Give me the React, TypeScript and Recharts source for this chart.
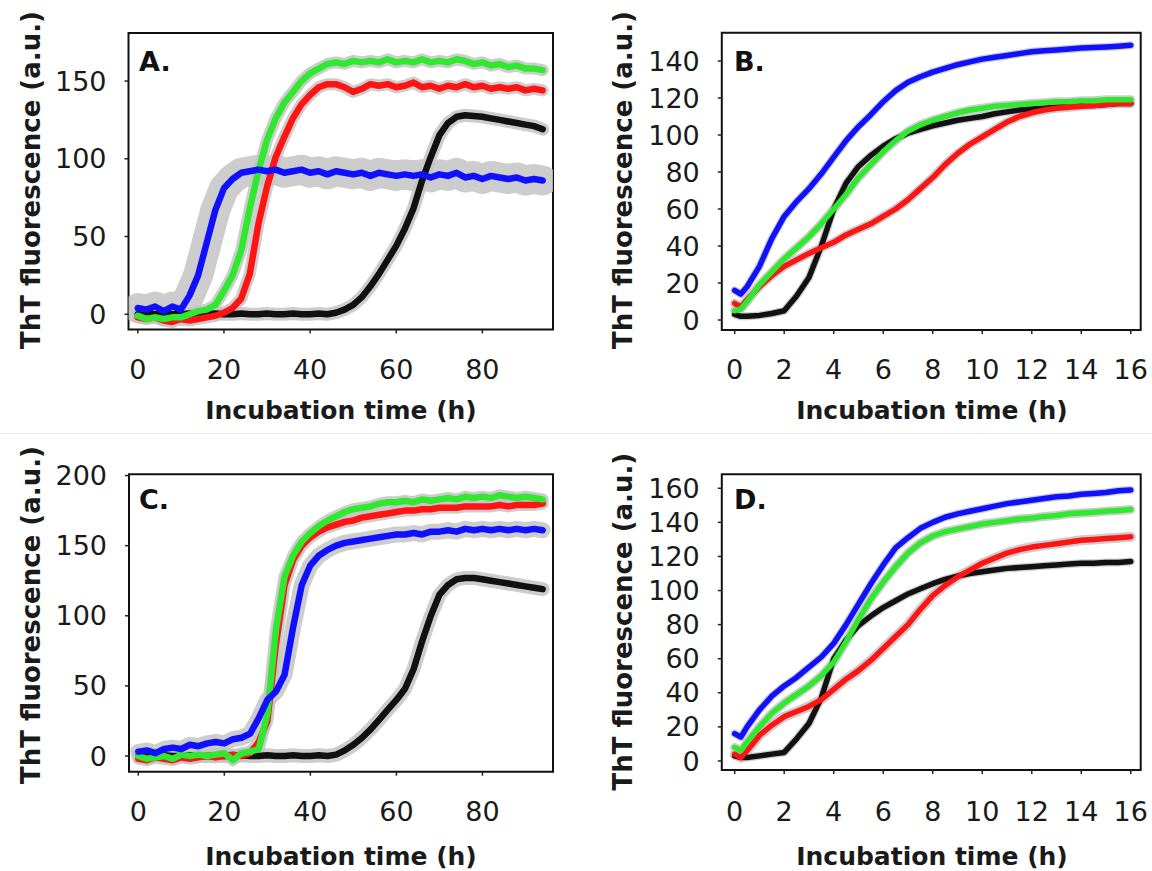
import { LineChart, Line, XAxis, YAxis, ReferenceArea } from 'recharts'

const FONT = '"DejaVu Sans", "Liberation Sans", Arial, sans-serif'

// time axes (h)
const hoursLong = [
  0, 2, 4, 6, 8, 10, 12, 14, 16, 18, 20, 22, 24, 26, 28, 30, 32, 34, 36, 38, 40, 42, 44, 46,
  48, 50, 52, 54, 56, 58, 60, 62, 64, 66, 68, 70, 72, 74, 76, 78, 80, 82, 84, 86, 88, 90, 92, 94,
]
const hoursShort = [
  0, 0.25, 0.5, 1, 1.5, 2, 2.5, 3, 3.5, 4, 4.5, 5, 5.5, 6, 6.5, 7, 7.5, 8, 8.5, 9, 9.5, 10,
  10.5, 11, 11.5, 12, 12.5, 13, 13.5, 14, 14.5, 15, 15.5, 16,
]

const ticksLong = [0, 20, 40, 60, 80]
const ticksShort = [0, 2, 4, 6, 8, 10, 12, 14, 16]
const ticksA = [0, 50, 100, 150]
const ticksB = [0, 20, 40, 60, 80, 100, 120, 140]
const ticksC = [0, 50, 100, 150, 200]
const ticksD = [0, 20, 40, 60, 80, 100, 120, 140, 160]

// panel A
const aBlack = [
  0, 0.5, 0, 0.5, 0, 0, 0.5, 0, 0, 0.5, 0, 0, 0.5, 0, 0, 0.5, 0, 0, 0.5, 0, 0, 0.5, 0,
  1, 3, 6, 11, 18, 26, 35, 44, 55, 68, 86, 101, 115, 123, 127, 128, 127.5, 127, 126, 125, 124, 123, 122, 121, 119,
]
const aRed = [
  -2, -3, -2, -4, -5, -3, -4, -3, -2, -1, 1, 4, 10, 26, 58, 82, 101, 114, 126, 135, 141, 146, 148, 148,
  146, 143, 145, 148, 147, 148, 146, 147, 149, 146, 147, 145, 147, 146, 148, 146, 147, 145, 146, 145, 146, 144, 145, 144,
]
const aGreen = [
  -1, -3, -2, -3, -2, -2, 0, 2, 3, 6, 15, 25, 41, 68, 92, 112, 126, 136, 143, 150, 155, 158, 161, 162,
  161, 163, 162, 163, 162, 164, 162, 163, 162, 164, 162, 163, 162, 164, 163, 161, 162, 160, 161, 159, 160, 158, 158, 157,
]
const aBlue = [
  4, 3, 5, 2, 5, 3, 12, 25, 46, 67, 81, 87, 91, 92, 93, 92, 93, 91, 92, 93, 91, 92, 90, 92,
  91, 90, 91, 89, 91, 90, 89, 90, 89, 90, 88, 90, 89, 91, 88, 89, 87, 89, 88, 87, 88, 86, 87, 86,
]

// panel B
const bBlack = [
  3, 2, 2, 2.5, 3.5, 5, 13, 23, 40, 60, 74, 83, 89, 94, 98, 101, 103, 105, 106.5, 108, 109, 110,
  111.5, 112.5, 113.5, 114, 114.5, 115, 115.5, 116, 116, 116.5, 117, 117,
]
const bRed = [
  9, 7, 11, 18, 24, 29, 32.5, 36, 39, 42, 46, 49, 52, 56, 60, 65, 71, 77, 84, 90, 95, 99,
  103, 107, 110, 112, 113.5, 114.5, 115, 115.5, 116, 116.5, 117, 117,
]
const bGreen = [
  5, 6, 10, 19, 26, 33, 39, 45, 52, 60, 68, 77, 84, 91, 97, 102, 105.5, 108, 110, 112, 113.5, 114.5,
  115.5, 116, 116.5, 117, 117.5, 118, 118, 118.5, 118.5, 119, 119, 119,
]
const bBlue = [
  16, 14, 18, 29, 44, 56, 64, 71, 79, 88, 97, 104.5, 111, 118, 124, 128.5, 131.5, 134, 136, 138, 139.5, 141,
  142, 143, 144, 145, 145.5, 146, 146.5, 147, 147.3, 147.6, 148, 148.5,
]

// panel C
const cBlack = [
  0, 0.5, 0, 0.5, 0, 0, 0.5, 0, 0, 0.5, 0, 0, 0.5, 0, 0, 0.5, 0, 0, 0.5, 0, 0, 0.5, 0,
  1, 4, 8, 13, 19, 26, 33, 40, 48, 62, 82, 100, 115, 122, 126, 127, 127, 126, 125, 124, 123, 122, 121, 120, 119,
]
const cRed = [
  -2, -3, -1, -2, -3, -1, -2, -1, 0, -1, 0, 1, 0, 2, 10, 25, 80, 122, 140, 150, 156, 160, 163, 165,
  167, 168, 170, 171, 172, 173, 174, 175, 175, 176, 176, 177, 177, 177, 178, 178, 178, 178, 179, 178, 179, 179, 179, 180,
]
const cGreen = [
  0, -2, -1, 0, -2, 1, 0, 1, 0, 1, 2, -3, 2, 3, 5, 30, 90, 128, 143, 153, 159, 164, 168, 171,
  174, 176, 177, 178, 180, 181, 181, 182, 181, 183, 182, 183, 184, 183, 185, 184, 185, 184, 186, 185, 184, 185, 184, 183,
]
const cBlue = [
  3, 4, 2, 5, 6, 5, 8, 7, 9, 10, 9, 12, 13, 16, 27, 40, 46, 58, 92, 122, 136, 143, 147, 150,
  152, 153, 154, 155, 156, 157, 158, 158, 159, 158, 160, 160, 161, 160, 162, 161, 162, 161, 162, 161, 162, 161, 162, 161,
]

// panel D
const dBlack = [
  3, 2, 2, 3, 4, 5, 13, 22, 37, 60, 71, 79.5, 85, 90, 94, 98, 101, 104, 106.5, 108.5, 110, 111,
  112, 113, 113.5, 114, 114.5, 115, 115.5, 116, 116, 116.5, 116.5, 117,
]
const dRed = [
  4, 2, 6, 15, 21, 26, 29, 32, 36, 42, 48, 53, 59, 66, 73, 80, 89, 97, 103, 108, 112, 116,
  119, 122, 124, 125.5, 126.5, 127.5, 128.5, 129.5, 130, 130.5, 131, 131.5,
]
const dGreen = [
  8, 6, 11, 20, 28, 34, 39, 44, 50, 58, 70, 83, 95, 105, 114, 122, 128, 132, 134.5, 136, 137.5, 139,
  140, 141, 142, 142.5, 143.5, 144, 145, 145.5, 146, 146.5, 147, 147.5,
]
const dBlue = [
  16, 14, 20, 30, 38, 44, 49, 55, 61, 69, 80, 92, 104, 115, 125, 131, 136.5, 140, 143, 145, 146.5, 148,
  149.5, 151, 152, 153, 154, 155, 155.5, 156.5, 157, 157.5, 158.5, 159,
]

const RED = '#ff1414'
const GREEN = '#30e830'
const BLUE = '#1010ff'
const BLACK = '#111111'
const BAND = '#c4c4c4'

type Series = { key: string; values: number[]; color: string; band: number }

type PanelProps = {
  left: number
  top: number
  width: number
  height: number
  box: { l: number; t: number; r: number; b: number }
  xDomain: [number, number]
  yDomain: [number, number]
  xTicks: number[]
  yTicks: number[]
  hours: number[]
  series: Series[]
  letter: string
  yTitle: { x: number; y: number }
  xTitle: { x: number; y: number }
  letterPos: { x: number; y: number }
  tickGap: number
  lineWidth: number
}

function Panel(p: PanelProps) {
  const rows = p.hours.map((t, i) => {
    const row: Record<string, number> = { t }
    p.series.forEach((s) => {
      row[s.key] = s.values[i]
    })
    return row
  })

  const yt = { x: p.yTitle.x - p.left, y: p.yTitle.y - p.top }
  const xt = { x: p.xTitle.x - p.left, y: p.xTitle.y - p.top }
  const lt = { x: p.letterPos.x - p.left, y: p.letterPos.y - p.top }

  const tickStyle = { fontSize: 27, fill: '#1a1a1a', fontFamily: FONT }

  return (
    <div style={{ position: 'absolute', left: p.left, top: p.top }}>
      <LineChart
        width={p.width}
        height={p.height}
        data={rows}
        margin={{ top: p.box.t - p.top, right: p.left + p.width - p.box.r, bottom: 0, left: 0 }}
      >
        <XAxis
          dataKey="t"
          type="number"
          domain={p.xDomain}
          ticks={p.xTicks}
          interval={0}
          allowDataOverflow
          height={p.top + p.height - p.box.b}
          tickSize={4}
          tickMargin={p.tickGap}
          axisLine={false}
          tickLine={{ stroke: '#222', strokeWidth: 1.5 }}
          tick={tickStyle}
          label={() => (
            <text
              x={xt.x}
              y={xt.y}
              textAnchor="middle"
              dominantBaseline="central"
              fontFamily={FONT}
              fontWeight="bold"
              fontSize={25}
              fill="#1a1a1a"
            >
              Incubation time (h)
            </text>
          )}
        />
        <YAxis
          type="number"
          domain={p.yDomain}
          ticks={p.yTicks}
          interval={0}
          allowDataOverflow
          width={p.box.l - p.left}
          tickSize={4}
          tickMargin={18}
          axisLine={false}
          tickLine={{ stroke: '#222', strokeWidth: 1.5 }}
          tick={tickStyle}
          label={() => (
            <g>
              <text
                x={yt.x}
                y={yt.y}
                transform={`rotate(-90 ${yt.x} ${yt.y})`}
                textAnchor="middle"
                dominantBaseline="central"
                fontFamily={FONT}
                fontWeight="bold"
                fontSize={26}
                fill="#1a1a1a"
              >
                ThT fluorescence (a.u.)
              </text>
              <text
                x={lt.x}
                y={lt.y}
                dominantBaseline="central"
                fontFamily={FONT}
                fontWeight="bold"
                fontSize={27}
                fill="#111"
              >
                {p.letter}
              </text>
            </g>
          )}
        />
        {p.series.map((s) => (
          <Line
            key={s.key + '-err'}
            dataKey={s.key}
            stroke={BAND}
            strokeWidth={s.band}
            strokeOpacity={0.85}
            strokeLinejoin="round"
            strokeLinecap="round"
            dot={false}
            activeDot={false}
            isAnimationActive={false}
          />
        ))}
        {p.series.map((s) => (
          <Line
            key={s.key}
            dataKey={s.key}
            stroke={s.color}
            strokeWidth={p.lineWidth}
            strokeLinejoin="round"
            strokeLinecap="round"
            dot={false}
            activeDot={false}
            isAnimationActive={false}
          />
        ))}
        <ReferenceArea
          x1={p.xDomain[0]}
          x2={p.xDomain[1]}
          y1={p.yDomain[0]}
          y2={p.yDomain[1]}
          fill="none"
          fillOpacity={0}
          stroke="#111"
          strokeWidth={2}
          ifOverflow="visible"
        />
      </LineChart>
    </div>
  )
}

export default function App() {
  return (
    <div
      style={{
        position: 'absolute',
        left: 0,
        top: 0,
        width: 1152,
        height: 871,
        background: '#fff',
        overflow: 'hidden',
      }}
    >
      <div style={{ position: 'absolute', left: 0, top: 433, width: 1152, height: 1, background: '#e6e6e6' }} />
      <Panel
        left={0}
        top={0}
        width={576}
        height={435}
        box={{ l: 128.5, t: 33, r: 553, b: 329.5 }}
        xDomain={[-2.16, 96.4]}
        yDomain={[-9.8, 180.9]}
        xTicks={ticksLong}
        yTicks={ticksA}
        hours={hoursLong}
        series={[
          { key: 'black', values: aBlack, color: BLACK, band: 13 },
          { key: 'red', values: aRed, color: RED, band: 12 },
          { key: 'green', values: aGreen, color: GREEN, band: 12 },
          { key: 'blue', values: aBlue, color: BLUE, band: 30 },
        ]}
        letter="A."
        yTitle={{ x: 31, y: 180 }}
        xTitle={{ x: 341, y: 410.5 }}
        letterPos={{ x: 139, y: 61 }}
        tickGap={26}
        lineWidth={6.5}
      />
      <Panel
        left={576}
        top={0}
        width={576}
        height={435}
        box={{ l: 721.8, t: 32.7, r: 1140.7, b: 330 }}
        xDomain={[-0.52, 16.4]}
        yDomain={[-5.4, 155.3]}
        xTicks={ticksShort}
        yTicks={ticksB}
        hours={hoursShort}
        series={[
          { key: 'black', values: bBlack, color: BLACK, band: 8 },
          { key: 'red', values: bRed, color: RED, band: 9 },
          { key: 'green', values: bGreen, color: GREEN, band: 9 },
          { key: 'blue', values: bBlue, color: BLUE, band: 8 },
        ]}
        letter="B."
        yTitle={{ x: 622.8, y: 180 }}
        xTitle={{ x: 932, y: 410 }}
        letterPos={{ x: 734, y: 61 }}
        tickGap={26}
        lineWidth={5.5}
      />
      <Panel
        left={0}
        top={435}
        width={576}
        height={436}
        box={{ l: 129, t: 474.3, r: 553, b: 771.7 }}
        xDomain={[-2.16, 96.4]}
        yDomain={[-11.2, 200.9]}
        xTicks={ticksLong}
        yTicks={ticksC}
        hours={hoursLong}
        series={[
          { key: 'black', values: cBlack, color: BLACK, band: 14 },
          { key: 'red', values: cRed, color: RED, band: 12 },
          { key: 'green', values: cGreen, color: GREEN, band: 12 },
          { key: 'blue', values: cBlue, color: BLUE, band: 16 },
        ]}
        letter="C."
        yTitle={{ x: 31, y: 615 }}
        xTitle={{ x: 341, y: 856.5 }}
        letterPos={{ x: 139, y: 499 }}
        tickGap={26}
        lineWidth={6.5}
      />
      <Panel
        left={576}
        top={435}
        width={576}
        height={436}
        box={{ l: 721.8, t: 474.3, r: 1140.7, b: 770 }}
        xDomain={[-0.52, 16.4]}
        yDomain={[-5.3, 168.2]}
        xTicks={ticksShort}
        yTicks={ticksD}
        hours={hoursShort}
        series={[
          { key: 'black', values: dBlack, color: BLACK, band: 8 },
          { key: 'red', values: dRed, color: RED, band: 10 },
          { key: 'green', values: dGreen, color: GREEN, band: 9 },
          { key: 'blue', values: dBlue, color: BLUE, band: 8 },
        ]}
        letter="D."
        yTitle={{ x: 622.8, y: 621.7 }}
        xTitle={{ x: 932, y: 856.5 }}
        letterPos={{ x: 734, y: 499 }}
        tickGap={28}
        lineWidth={5.5}
      />
    </div>
  )
}
